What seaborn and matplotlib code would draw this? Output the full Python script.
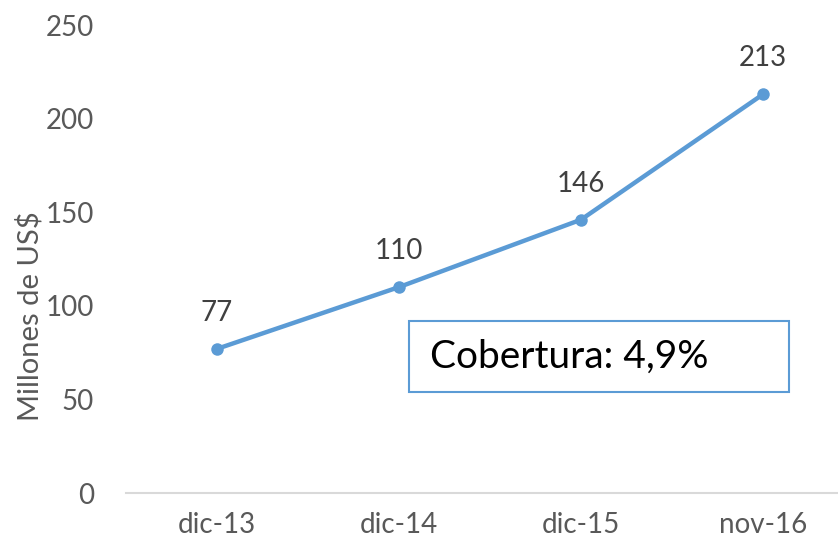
import matplotlib
matplotlib.use("Agg")
import matplotlib.pyplot as plt
import seaborn as sns
import pandas as pd
from matplotlib.patches import Rectangle

categories = ["dic-13", "dic-14", "dic-15", "nov-16"]
values = [77, 110, 146, 213]
y_ticks = [0, 50, 100, 150, 200, 250]
y_label = "Millones de US$"
note = "Cobertura: 4,9%"

sns.set_theme(style="white")
plt.rcParams["font.family"] = ["Lato", "DejaVu Sans"]

df = pd.DataFrame({"cat": categories, "val": values})

W, H = 838, 547
fig = plt.figure(figsize=(W / 100, H / 100), dpi=100)
left, right, bottom, top = 126, 838, 493, 25
ax = fig.add_axes([left / W, (H - bottom) / H, (right - left) / W, (bottom - top) / H])

line_color = "#5B9BD5"
sns.lineplot(data=df, x="cat", y="val", ax=ax, color=line_color, linewidth=3.2,
             marker="o", markersize=9, markeredgewidth=0, sort=False)

ax.set_ylim(0, 250)
ax.set_xlim(-0.5, 3.412)
ax.set_yticks(y_ticks)
ax.set_xticks(range(len(categories)))
ax.set_xticklabels(categories)
ax.tick_params(axis="both", colors="#595959", labelsize=20, length=0)
ax.tick_params(axis="y", pad=23)
ax.tick_params(axis="x", pad=14)
ax.set_xlabel("")
ax.set_ylabel("")
for s in ["top", "right", "left"]:
    ax.spines[s].set_visible(False)
ax.spines["bottom"].set_color("#D9D9D9")
ax.spines["bottom"].set_linewidth(1.5)

for i, v in enumerate(values):
    ax.annotate(str(v), (i, v), xytext=(0, 26), textcoords="offset points",
                ha="center", va="center", fontsize=20, color="#404040")

fig.text(30 / W, (H - 316) / H, y_label, rotation=90, fontsize=21, color="#595959",
         ha="center", va="center")

# note box
bx0, by0, bx1, by1 = 409, 321, 789, 392
fig.patches.append(Rectangle((bx0 / W, (H - by1) / H), (bx1 - bx0) / W, (by1 - by0) / H,
                             transform=fig.transFigure, fill=False,
                             edgecolor=line_color, linewidth=1.5))
fig.text(430 / W, (H - 357) / H, note, fontsize=28, color="black", ha="left", va="center")

fig.savefig("out.png", dpi=100)
